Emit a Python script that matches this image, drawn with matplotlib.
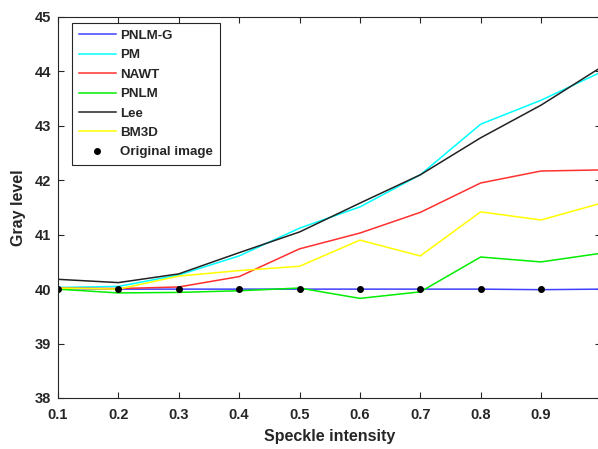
import matplotlib

matplotlib.use("Agg")
import matplotlib.pyplot as plt

plt.rcParams["font.family"] = ["Liberation Sans", "DejaVu Sans"]
plt.rcParams["font.weight"] = "bold"
plt.rcParams["text.color"] = "#262626"
plt.rcParams["xtick.color"] = "#262626"
plt.rcParams["ytick.color"] = "#262626"
plt.rcParams["axes.labelcolor"] = "#262626"

x = [0.1, 0.2, 0.3, 0.4, 0.5, 0.6, 0.7, 0.8, 0.9, 1.0]
pnlm_g = [40.01, 40.0, 40.0, 40.0, 40.0, 40.0, 40.0, 40.0, 39.99, 40.0]
pm = [40.03, 40.05, 40.26, 40.61, 41.12, 41.51, 42.10, 43.03, 43.47, 43.99]
nawt = [40.02, 40.01, 40.04, 40.23, 40.74, 41.03, 41.41, 41.95, 42.17, 42.19]
pnlm = [40.0, 39.93, 39.94, 39.97, 40.02, 39.83, 39.95, 40.59, 40.50, 40.66]
lee = [40.18, 40.12, 40.28, 40.67, 41.05, 41.58, 42.10, 42.78, 43.38, 44.08]
bm3d = [40.02, 40.0, 40.24, 40.34, 40.42, 40.90, 40.61, 41.42, 41.27, 41.58]
orig_x = [0.1, 0.2, 0.3, 0.4, 0.5, 0.6, 0.7, 0.8, 0.9]
orig_y = [40, 40, 40, 40, 40, 40, 40, 40, 40]

fig = plt.figure(figsize=(5.98, 4.49), dpi=100)
ax = fig.add_axes([0.097, 0.1136, 0.9087, 0.8486])

lw = 1.1
ax.plot(x, pnlm_g, color="#4040ff", lw=lw, label="PNLM-G")
ax.plot(x, pm, color="#00ffff", lw=lw, label="PM")
ax.plot(x, nawt, color="#ff3030", lw=lw, label="NAWT")
ax.plot(x, pnlm, color="#00ee00", lw=lw, label="PNLM")
ax.plot(x, lee, color="#222222", lw=lw, label="Lee")
ax.plot(x, bm3d, color="#ffff00", lw=lw, label="BM3D")
ax.plot(orig_x, orig_y, "k.", ms=8, label="Original image")

ax.set_xlim(0.1, 1.0)
ax.set_ylim(38, 45)
ax.set_xticks([0.1, 0.2, 0.3, 0.4, 0.5, 0.6, 0.7, 0.8, 0.9])
ax.set_yticks(range(38, 46))
ax.tick_params(direction="in", top=True, right=True, labelsize=10.5, length=4, width=0.8)
ax.tick_params(axis="x", pad=7)
ax.tick_params(axis="y", pad=5)
for s in ax.spines.values():
    s.set_linewidth(0.8)
    s.set_color("#262626")

ax.set_xlabel("Speckle intensity", fontsize=11.5, fontweight="bold", labelpad=5)
ax.set_ylabel("Gray level", fontsize=11.5, fontweight="bold", labelpad=6)

leg = ax.legend(loc="upper left", bbox_to_anchor=(0.026, 0.984), borderaxespad=0,
                fontsize=9.6, fancybox=False, edgecolor="#262626", framealpha=1,
                handlelength=2.8, labelspacing=0.53, borderpad=0.5, handletextpad=0.3)
leg.get_frame().set_linewidth(0.8)

fig.savefig("out.png", dpi=100)
